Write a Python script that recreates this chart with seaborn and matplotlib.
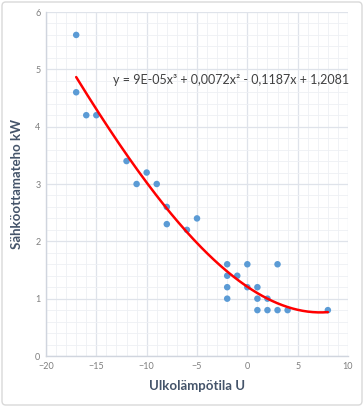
import matplotlib
matplotlib.use("Agg")
import matplotlib.pyplot as plt
import matplotlib.ticker as ticker
from matplotlib.patches import FancyBboxPatch
import numpy as np
import pandas as pd
import seaborn as sns

# outdoor temperature vs electric power
temps = [-17, -17, -16, -15, -12, -11, -10, -9, -8, -8, -6, -5,
         -2, -2, -2, -2, -1, 0, 0, 1, 1, 1, 2, 2, 3, 3, 4, 8]
power = [5.6, 4.6, 4.2, 4.2, 3.4, 3.0, 3.2, 3.0, 2.6, 2.3, 2.2, 2.4,
         1.6, 1.4, 1.2, 1.0, 1.4, 1.6, 1.2, 1.2, 1.0, 0.8, 1.0, 0.8, 0.8, 1.6, 0.8, 0.8]

# trendline coefficients as printed on the chart (x^3, x^2, x, 1)
coeffs = [9e-05, 0.0072, -0.1187, 1.2081]
equation = "y = 9E-05x³ + 0,0072x² - 0,1187x + 1,2081"

x_ticks = [-20, -15, -10, -5, 0, 5, 10]
y_ticks = [0, 1, 2, 3, 4, 5, 6]

df = pd.DataFrame({"U": temps, "P": power})
xs = np.linspace(min(temps), max(temps), 200)
trend = pd.DataFrame({"U": xs, "P": np.polyval(coeffs, xs)})

sns.set_style("white")
plt.rcParams["font.family"] = ["Lato", "DejaVu Sans"]

fig = plt.figure(figsize=(3.64, 4.07), dpi=100)
ax = fig.add_axes([46 / 364, 1 - 356 / 407, 302 / 364, 344 / 407])

ax.set_xlim(-20, 10)
ax.set_ylim(0, 6)
ax.set_xticks(x_ticks)
ax.set_yticks(y_ticks)
ax.xaxis.set_minor_locator(ticker.MultipleLocator(1))
ax.yaxis.set_minor_locator(ticker.MultipleLocator(0.2))
ax.grid(which="major", color="#dfe3ea", linewidth=0.9)
ax.grid(which="minor", color="#eef0f4", linewidth=0.6)
ax.set_axisbelow(True)
ax.tick_params(which="both", length=0, labelsize=6.5, labelcolor="#7f7f7f", pad=4)

for side in ["top", "right"]:
    ax.spines[side].set_visible(False)
for side in ["left", "bottom"]:
    ax.spines[side].set_color("#d0d5de")
    ax.spines[side].set_linewidth(1.0)

sns.scatterplot(data=df, x="U", y="P", ax=ax, color="#5b9bd5", s=22,
                edgecolor="none", zorder=3)
sns.lineplot(data=trend, x="U", y="P", ax=ax, color="#ff0000", linewidth=1.8,
             zorder=4)

ax.text(-13.3, 4.82, equation, fontsize=9.0, color="#404040", va="center",
        ha="left", zorder=5)

ax.set_xlabel("Ulkolämpötila U", fontsize=9.5, fontweight="bold",
              color="#44546a", labelpad=7)
ax.set_ylabel("Sähköottamateho kW", fontsize=9.5, fontweight="bold",
              color="#44546a", labelpad=9)

border = FancyBboxPatch((2 / 364, 2 / 407), 360 / 364, 403 / 407,
                        boxstyle="round,pad=0,rounding_size=0.01",
                        transform=fig.transFigure, facecolor="none",
                        edgecolor="#d9d9d9", linewidth=1.0)
fig.patches.append(border)

fig.savefig("out.png", dpi=100)
